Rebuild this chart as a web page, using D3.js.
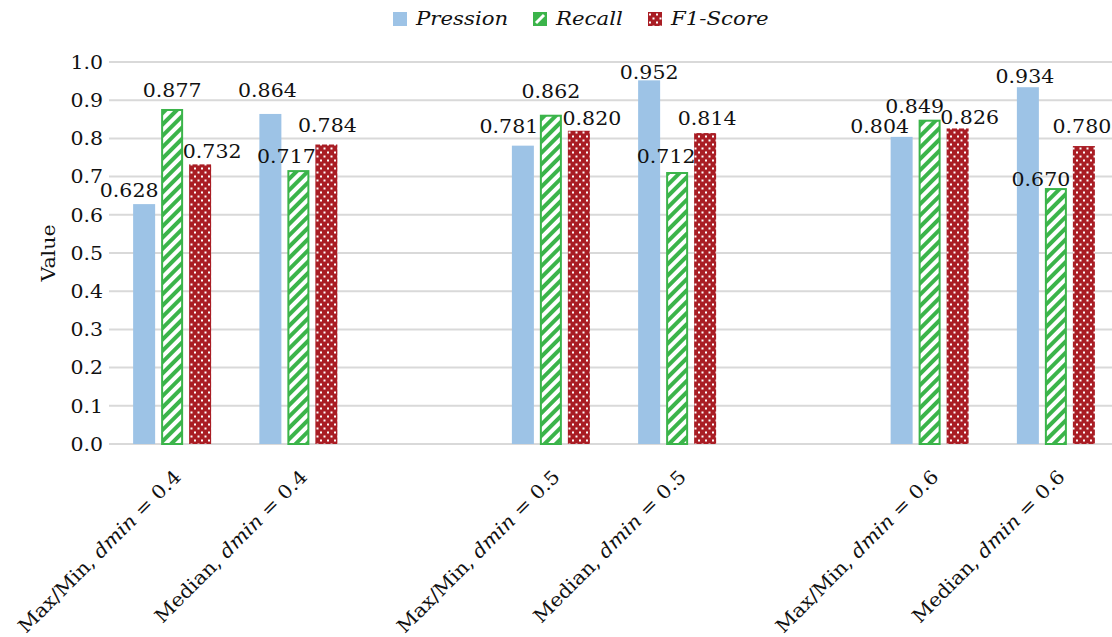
<!DOCTYPE html>
<html>
<head>
<meta charset="utf-8">
<script src="https://cdn.jsdelivr.net/npm/d3@7/dist/d3.min.js"></script>
<style>
  html, body { margin: 0; padding: 0; background: #fff; }
  svg text { font-family: "DejaVu Serif", serif; fill: #111; }
</style>
</head>
<body>
<svg id="chart" width="1112" height="637"></svg>
<script>
// Configurations (blank slots separate the dmin groups)
const categories = [
  { method: "Max/Min", dmin: "0.4" },
  { method: "Median",  dmin: "0.4" },
  null,
  { method: "Max/Min", dmin: "0.5" },
  { method: "Median",  dmin: "0.5" },
  null,
  { method: "Max/Min", dmin: "0.6" },
  { method: "Median",  dmin: "0.6" }
];
const seriesNames = ["Pression", "Recall", "F1-Score"];
const pression = [0.628, 0.864, null, 0.781, 0.952, null, 0.804, 0.934];
const recall   = [0.877, 0.717, null, 0.862, 0.712, null, 0.849, 0.670];
const f1Score  = [0.732, 0.784, null, 0.820, 0.814, null, 0.826, 0.780];
const yTicks = [0, 0.1, 0.2, 0.3, 0.4, 0.5, 0.6, 0.7, 0.8, 0.9, 1.0];

// Label nudges [dx, gap above bar] so neighbouring labels do not collide
const labelNudge = {
  Pression:   [[-15, 7], [-3, 17], null, [-14, 13], [0, 1], null, [-22, 4], [-3, 4]],
  Recall:     [[0, 12], [-12, 7], null, [0, 17], [-11, 9], null, [-15, 7], [-15, 2]],
  "F1-Score": [[12, 6], [1, 13], null, [13, 6], [2, 8], null, [12, 4], [-2, 13]]
};

const svg = d3.select("#chart");
const W = 1112, H = 637;
const margin = { left: 109, right: -7, top: 62, bottom: 193 };
const plotW = W - margin.left - margin.right;
const plotH = H - margin.top - margin.bottom;
const SX = 1.08; // slight horizontal text stretch
const FS = 19;

const defs = svg.append("defs");
// diagonal green hatch
const hatch = defs.append("pattern")
  .attr("id", "hatch").attr("patternUnits", "userSpaceOnUse")
  .attr("width", 8).attr("height", 8)
  .attr("patternTransform", "rotate(45)");
hatch.append("rect").attr("width", 8).attr("height", 8).attr("fill", "#fff");
hatch.append("rect").attr("x", 0).attr("width", 4).attr("height", 8).attr("fill", "#3bb44a");
// white dots on dark red
const dots = defs.append("pattern")
  .attr("id", "dots").attr("patternUnits", "userSpaceOnUse")
  .attr("width", 7).attr("height", 8);
dots.append("rect").attr("width", 7).attr("height", 8).attr("fill", "#a91d24");
dots.append("rect").attr("x", 1).attr("y", 1.5).attr("width", 2).attr("height", 2).attr("fill", "#fff");
dots.append("rect").attr("x", 4.5).attr("y", 5.5).attr("width", 2).attr("height", 2).attr("fill", "#fff");

const styles = {
  "Pression": { fill: "#9dc3e6", stroke: "none" },
  "Recall":   { fill: "url(#hatch)", stroke: "#3bb44a" },
  "F1-Score": { fill: "url(#dots)", stroke: "none" }
};

const g = svg.append("g").attr("transform", `translate(${margin.left},${margin.top})`);

const x = d3.scaleBand().domain(d3.range(categories.length)).range([0, plotW]).paddingInner(0).paddingOuter(0);
const inner = d3.scaleBand().domain(seriesNames).range([-39, 39]).paddingInner(0.214).paddingOuter(0);
const y = d3.scaleLinear().domain([0, 1]).range([plotH, 0]);

// gridlines
g.append("g").selectAll("line").data(yTicks).join("line")
  .attr("x1", 0).attr("x2", plotW)
  .attr("y1", d => y(d)).attr("y2", d => y(d))
  .attr("stroke", "#d9d9d9").attr("stroke-width", 2);

// y axis labels
const yAxis = d3.axisLeft(y).tickValues(yTicks).tickFormat(d3.format(".1f")).tickSize(0).tickPadding(0);
const ya = g.append("g").call(yAxis);
ya.select(".domain").remove();
ya.selectAll("text")
  .attr("font-size", FS).attr("font-family", "DejaVu Serif").attr("fill", "#111")
  .attr("x", 0).attr("dy", null)
  .attr("dominant-baseline", "central")
  .attr("transform", `translate(-6,0) scale(${SX},1)`);

// y title
svg.append("text")
  .attr("transform", `translate(55,${margin.top + plotH / 2}) rotate(-90) scale(${SX},1)`)
  .attr("text-anchor", "middle").attr("font-size", FS)
  .text("Value");

// bars
const series = [
  { name: "Pression", values: pression },
  { name: "Recall", values: recall },
  { name: "F1-Score", values: f1Score }
];
const cx = i => x(i) + x.bandwidth() / 2;

series.forEach(s => {
  const st = styles[s.name];
  const data = s.values.map((v, i) => ({ v, i })).filter(d => d.v != null);
  const isRecall = s.name === "Recall";
  g.append("g").selectAll("rect").data(data).join("rect")
    .attr("x", d => cx(d.i) + inner(s.name) + (isRecall ? 1 : 0))
    .attr("width", inner.bandwidth() - (isRecall ? 2 : 0))
    .attr("y", d => y(d.v) + (isRecall ? 1 : 0))
    .attr("height", d => y(0) - y(d.v) - (isRecall ? 1 : 0))
    .attr("fill", st.fill)
    .attr("stroke", st.stroke)
    .attr("stroke-width", isRecall ? 2 : 0);

  g.append("g").selectAll("text").data(data).join("text")
    .attr("transform", d => {
      const nd = labelNudge[s.name][d.i];
      const px = cx(d.i) + inner(s.name) + inner.bandwidth() / 2 + nd[0];
      const py = y(d.v) - nd[1];
      return `translate(${px},${py}) scale(${SX},1)`;
    })
    .attr("text-anchor", "middle").attr("font-size", FS)
    .text(d => d3.format(".3f")(d.v));
});

// category labels, rotated
categories.forEach((c, i) => {
  if (!c) return;
  const t = svg.append("text")
    .attr("transform", `translate(${margin.left + cx(i) + 10},${margin.top + plotH + 34}) rotate(-45) scale(${SX},1)`)
    .attr("text-anchor", "end").attr("font-size", FS);
  t.append("tspan").text(c.method + ", ");
  t.append("tspan").attr("font-style", "italic").text("dmin");
  t.append("tspan").attr("dx", 6).text("=");
  t.append("tspan").attr("dx", 6).text(c.dmin);
});

// legend
const legend = svg.append("g").attr("transform", "translate(393,12)");
const legendX = [0, 140, 255];
seriesNames.forEach((n, k) => {
  const lg = legend.append("g").attr("transform", `translate(${legendX[k]},0)`);
  if (n === "Recall") {
    lg.append("rect").attr("x", 1).attr("y", 1).attr("width", 12).attr("height", 12)
      .attr("fill", "#3bb44a").attr("stroke", "#3bb44a").attr("stroke-width", 2);
    lg.append("path").attr("d", "M3,11 L11,3").attr("stroke", "#fff").attr("stroke-width", 3);
  } else {
    lg.append("rect").attr("width", 14).attr("height", 14).attr("fill", styles[n].fill);
  }
  lg.append("text").attr("transform", `translate(23,13) scale(1.12,1)`)
    .attr("font-size", FS).attr("font-style", "italic").text(n);
});
</script>
</body>
</html>
